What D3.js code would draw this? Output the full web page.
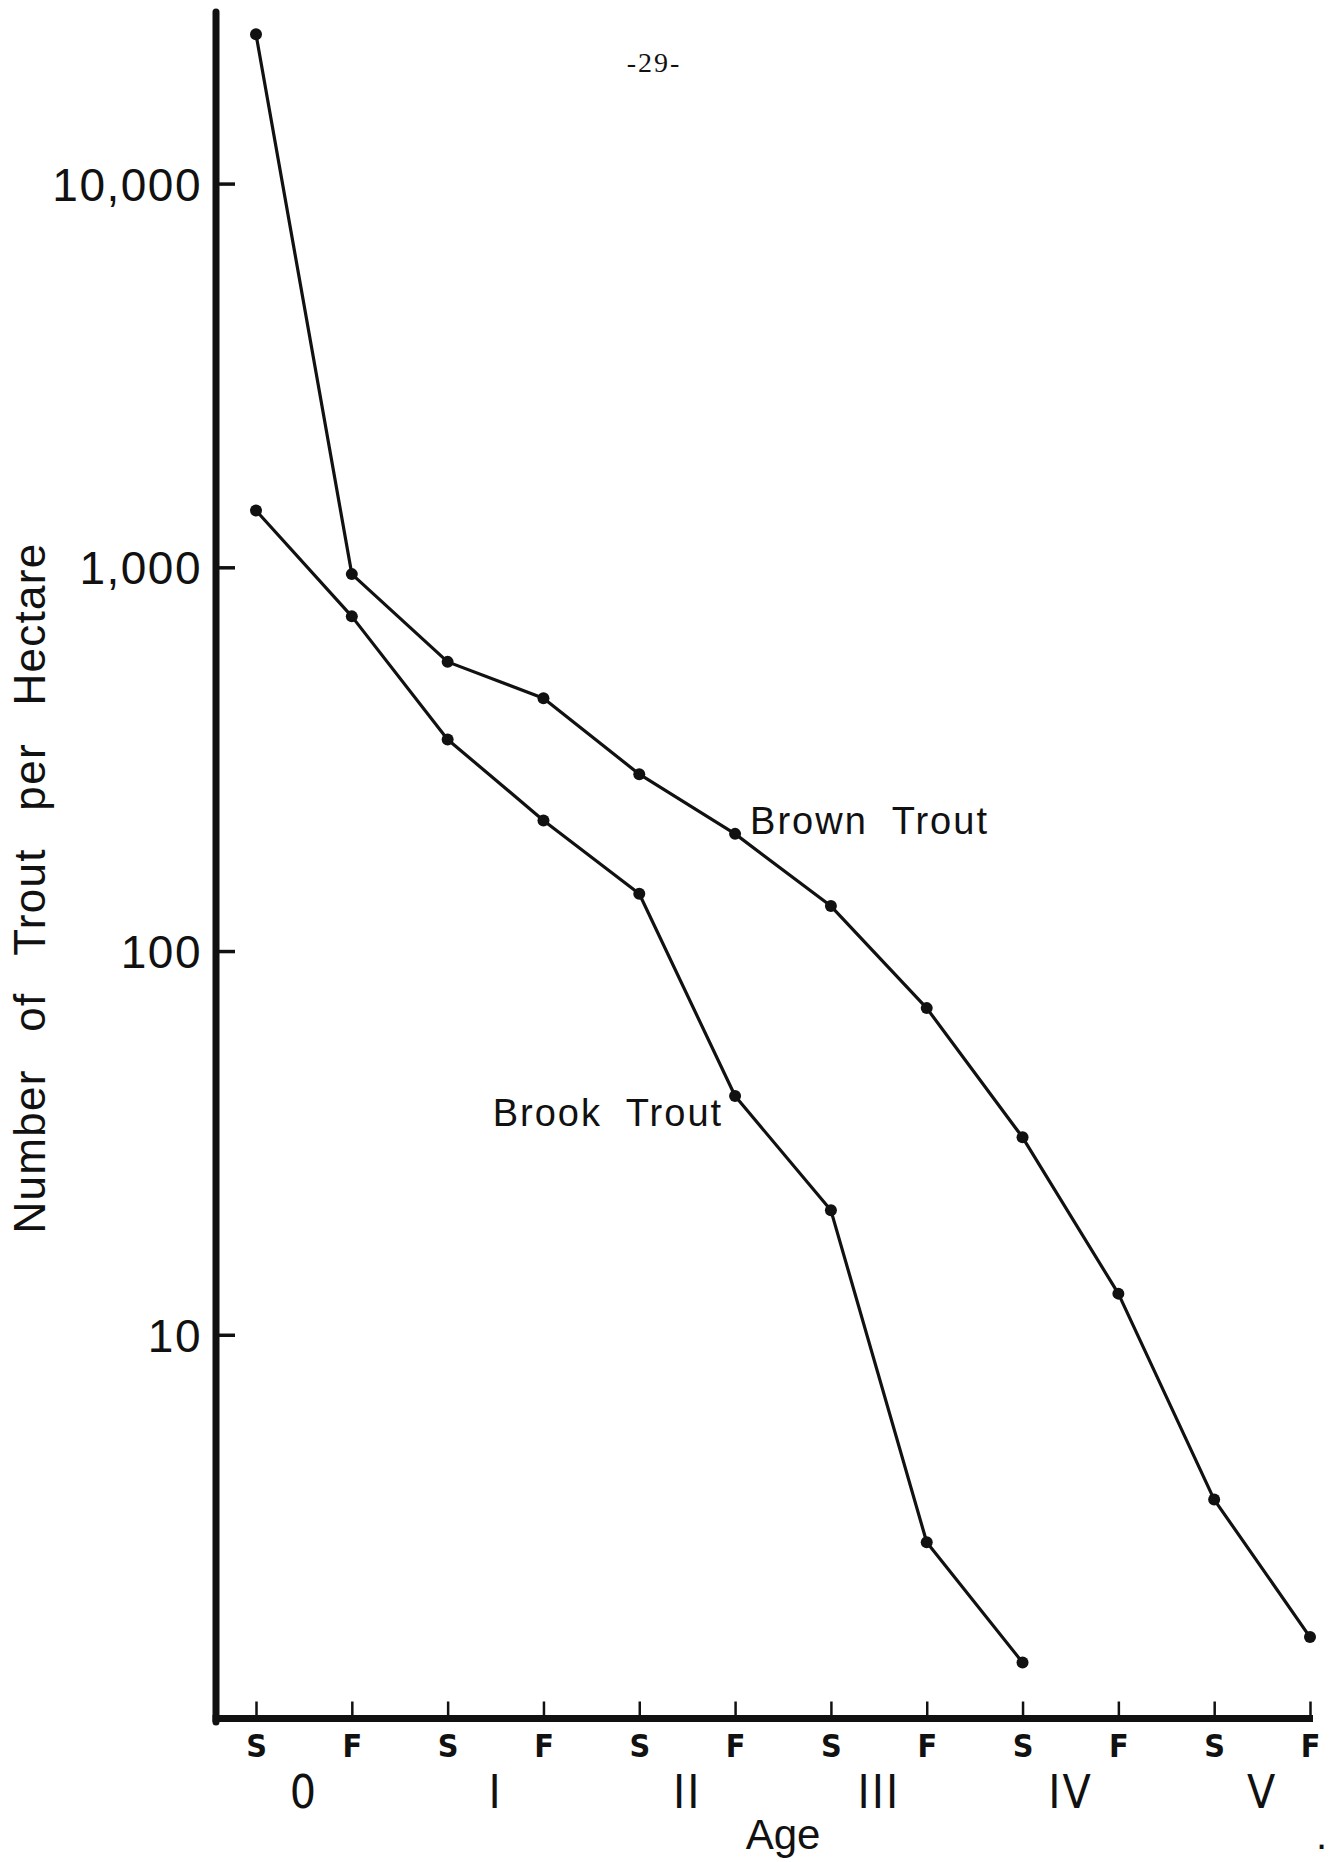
<!DOCTYPE html>
<html>
<head>
<meta charset="utf-8">
<script src="https://cdn.jsdelivr.net/npm/d3@7"></script>
<style>
  body { margin: 0; background: #fff; }
  svg { display: block; }
  text { fill: #111; }
</style>
</head>
<body>
<div id="chart-wrapper"></div>
<script>
// data
var seasons = ["S", "F", "S", "F", "S", "F", "S", "F", "S", "F", "S", "F"];
var ageClasses = ["0", "I", "II", "III", "IV", "V"];
var brownTrout = [24500, 960, 567, 456, 289, 202, 131, 71, 32.7, 12.8, 3.72, 1.63];
var brookTrout = [1406, 745, 356, 219, 141, 41.9, 21.1, 2.88, 1.40];
var yTicks = [10, 100, 1000, 10000];
var yTickLabels = ["10", "100", "1,000", "10,000"];

var W = 1336, H = 1862;
var margin = {top: 12, left: 216};
var plotW = 1100, plotH = 1706.5;

var svg = d3.select("#chart-wrapper")
  .append("svg")
    .attr("width", W)
    .attr("height", H);

var g = svg.append("g")
    .attr("transform", `translate(${margin.left},${margin.top})`);

var x = d3.scalePoint()
  .domain(d3.range(seasons.length))
  .range([40, 1094]);

var y = d3.scaleLog()
  .domain([1, 28000])
  .range([plotH, 0]);

var ink = "#111";

// y axis ticks + labels
var yAxis = g.append("g")
  .call(d3.axisLeft(y)
    .tickValues(yTicks)
    .tickFormat((d, i) => yTickLabels[i])
    .tickSizeInner(-19)
    .tickSizeOuter(0)
    .tickPadding(14));
yAxis.select(".domain").remove();
yAxis.selectAll(".tick line").attr("stroke", ink).attr("stroke-width", 3.5);
yAxis.selectAll(".tick text")
  .attr("fill", ink)
  .style("font-family", "'Liberation Sans', Arial, sans-serif")
  .style("font-size", "46px")
  .style("letter-spacing", "1.5px")
  .attr("dy", "0.36em");

// x axis ticks + S/F labels
var xAxis = g.append("g")
  .attr("transform", `translate(0,${plotH})`)
  .call(d3.axisBottom(x)
    .tickFormat(i => seasons[i])
    .tickSizeInner(-17)
    .tickSizeOuter(0)
    .tickPadding(16));
xAxis.select(".domain").remove();
xAxis.selectAll(".tick line").attr("stroke", ink).attr("stroke-width", 2.5);
xAxis.selectAll(".tick text")
  .attr("fill", ink)
  .style("font-family", "'DejaVu Sans', sans-serif")
  .style("font-stretch", "condensed")
  .style("font-weight", "bold")
  .style("font-size", "32px");

// heavy axis lines
g.append("line")
  .attr("x1", 0).attr("x2", 0)
  .attr("y1", y.range()[1]).attr("y2", y.range()[0] + 3.5)
  .attr("stroke", ink).attr("stroke-width", 7)
  .attr("stroke-linecap", "round");
g.append("line")
  .attr("x1", -3.5).attr("x2", x(seasons.length - 1) + 3)
  .attr("y1", plotH).attr("y2", plotH)
  .attr("stroke", ink).attr("stroke-width", 7);

// age classes, centred under each S/F pair
g.selectAll("ageLabels")
  .data(ageClasses)
  .enter()
  .append("text")
    .attr("x", (d, i) => (x(2 * i) + x(2 * i + 1)) / 2)
    .attr("y", plotH + 89)
    .attr("text-anchor", "middle")
    .style("font-family", "'Liberation Sans Narrow', 'DejaVu Sans Condensed', sans-serif")
    .style("font-size", "46px")
    .style("letter-spacing", "2px")
    .text(d => d);

g.append("text")
  .attr("x", (x(0) + x(seasons.length - 1)) / 2)
  .attr("y", plotH + 130)
  .attr("text-anchor", "middle")
  .style("font-family", "'Liberation Sans', Arial, sans-serif")
  .style("font-size", "42px")
  .text("Age");

g.append("text")
  .attr("x", x(seasons.length - 1) + 6)
  .attr("y", plotH + 130)
  .style("font-family", "'Liberation Sans', Arial, sans-serif")
  .style("font-size", "40px")
  .text(".");

// y title
svg.append("text")
  .attr("transform", `translate(45,${margin.top + 876}) rotate(-90)`)
  .attr("text-anchor", "middle")
  .style("font-family", "'Liberation Sans', Arial, sans-serif")
  .style("font-size", "44px")
  .style("letter-spacing", "1.3px")
  .style("word-spacing", "24px")
  .text("Number of Trout per Hectare");

// page number
svg.append("text")
  .attr("x", 654)
  .attr("y", 72)
  .attr("text-anchor", "middle")
  .style("font-family", "'Liberation Serif', 'DejaVu Serif', serif")
  .style("font-size", "28px")
  .style("letter-spacing", "2px")
  .text("-29-");

// series
var line = d3.line()
  .x((d, i) => x(i))
  .y(d => y(d));

[brownTrout, brookTrout].forEach(function (series) {
  g.append("path")
    .datum(series)
    .attr("d", line)
    .attr("fill", "none")
    .attr("stroke", ink)
    .attr("stroke-width", 3.2)
    .attr("stroke-linejoin", "round");

  g.selectAll(null)
    .data(series)
    .enter()
    .append("circle")
      .attr("cx", (d, i) => x(i))
      .attr("cy", d => y(d))
      .attr("r", 6)
      .attr("fill", ink);
});

// series labels, placed next to the II-F points
var labelStyle = function (sel) {
  sel.style("font-family", "'Liberation Sans', Arial, sans-serif")
    .style("font-size", "38px")
    .style("letter-spacing", "2px")
    .style("word-spacing", "12px");
};
g.append("text")
  .attr("x", x(5) + 15)
  .attr("y", y(brownTrout[5]))
  .call(labelStyle)
  .text("Brown Trout");
g.append("text")
  .attr("x", x(5) - 12)
  .attr("y", y(brookTrout[5]) + 30)
  .attr("text-anchor", "end")
  .call(labelStyle)
  .text("Brook Trout");
</script>
</body>
</html>
